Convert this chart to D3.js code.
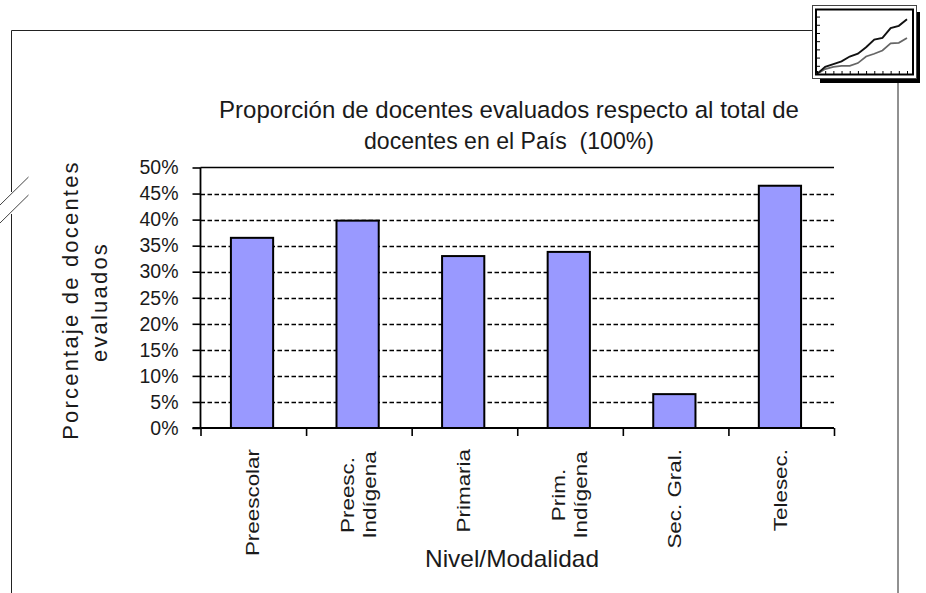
<!DOCTYPE html>
<html><head><meta charset="utf-8">
<script src="https://cdnjs.cloudflare.com/ajax/libs/d3/7.8.5/d3.min.js"></script>
<style>html,body{margin:0;padding:0;background:#fff}svg{display:block}text{font-family:"Liberation Sans",Arial,sans-serif;fill:#1a1a1a}</style>
</head><body><svg id="c" width="926" height="593"></svg>
<script>
const categories=[["Preescolar"],["Preesc.","Indígena"],["Primaria"],["Prim.","Indígena"],["Sec. Gral."],["Telesec."]];
const values=[36.5,39.8,33,33.8,6.5,46.5];
const yTicks=[0,5,10,15,20,25,30,35,40,45,50];
const titleLines=["Proporción de docentes evaluados respecto al total de","docentes en el País\u00a0 (100%)"];
const yTitleLines=["Porcentaje de docentes","evaluados"];
const xTitle="Nivel/Modalidad";
const iconBlack=[0,13,18,23,32,37,49,63,66,84,88,100];
const iconGrey=[0,9,13,15,15,20,32,37,43,56,57,66];

const svg=d3.select("#c");
const L=200.5,R=834,T=167.5,B=428;
const x=d3.scaleBand().domain(d3.range(categories.length)).range([L,R]).paddingInner(0.6).paddingOuter(0.3).align(0.48);
const xEdge=d3.scaleLinear().domain([0,categories.length]).range([L,R]);
const y=d3.scaleLinear().domain([0,50]).range([B,T]);

// page frame
const frame=svg.append("g").attr("fill","none").attr("stroke","#222").attr("stroke-width",1);
frame.append("path").attr("d","M11.5,593V214M11.5,192V30.5H814");
frame.append("path").attr("d","M898,80V593");
const brk=svg.append("g").attr("stroke","#444").attr("stroke-width",1);
brk.append("line").attr("x1",0).attr("y1",205).attr("x2",28.5).attr("y2",177);
brk.append("line").attr("x1",0).attr("y1",223).attr("x2",28.5).attr("y2",195);

// icon
const icon=svg.append("g");
icon.append("rect").attr("x",820).attr("y",12).attr("width",100).attr("height",71).attr("fill","#000");
icon.append("rect").attr("x",812.5).attr("y",5.5).attr("width",104).attr("height",73).attr("fill","#fff").attr("stroke","#444");
icon.append("rect").attr("x",816).attr("y",9.5).attr("width",97).attr("height",65).attr("fill","#fff").attr("stroke","#000").attr("stroke-width",2);
const ix=d3.scaleLinear().domain([0,11]).range([817,907]);
const iy=d3.scaleLinear().domain([0,100]).range([74,19.3]);
const il=d3.line().x((d,i)=>ix(i)).y(d=>iy(d));
icon.append("path").attr("d",il(iconGrey)).attr("fill","none").attr("stroke","#666").attr("stroke-width",1.7);
icon.append("path").attr("d",il(iconBlack)).attr("fill","none").attr("stroke","#111").attr("stroke-width",1.9);
icon.append("g").attr("transform","translate(817,0)").call(d3.axisRight(iy).tickValues(d3.range(0,116,15)).tickSize(3).tickFormat("")).call(g=>g.select(".domain").remove()).call(g=>g.selectAll("line").attr("stroke","#000"));
icon.append("g").attr("transform","translate(0,74)").call(d3.axisTop(ix).ticks(11).tickSize(3).tickFormat("")).call(g=>g.select(".domain").remove()).call(g=>g.selectAll("line").attr("stroke","#000"));

// title
svg.append("g").selectAll("text").data(titleLines).join("text")
 .attr("x",509).attr("y",(d,i)=>118+i*31).attr("text-anchor","middle").attr("font-size",24.5).attr("textLength",(d,i)=>i?290:580).attr("lengthAdjust","spacingAndGlyphs").text(d=>d);

// gridlines
svg.append("g").selectAll("line").data(yTicks.filter(t=>t>0&&t<50)).join("line")
 .attr("x1",L).attr("x2",R).attr("y1",d=>Math.round(y(d))+.5).attr("y2",d=>Math.round(y(d))+.5)
 .attr("stroke","#000").attr("stroke-width",1.5).attr("stroke-dasharray","4.5,2.5");
svg.append("line").attr("x1",L).attr("x2",R).attr("y1",y(50)).attr("y2",y(50)).attr("stroke","#000").attr("stroke-width",1.5);

// bars
svg.append("g").selectAll("rect").data(values).join("rect")
 .attr("x",(d,i)=>x(i)).attr("width",x.bandwidth()).attr("y",d=>y(d)).attr("height",d=>B-y(d))
 .attr("fill","#9999ff").attr("stroke","#000").attr("stroke-width",2);

// axes
const yAxis=d3.axisLeft(y).tickValues(yTicks).tickSize(8).tickPadding(14).tickFormat(d=>d+"%");
svg.append("g").attr("transform",`translate(${L},0)`).call(yAxis)
 .call(g=>g.selectAll("line").attr("stroke","#000").attr("stroke-width",1.6))
 .call(g=>g.select(".domain").attr("stroke","#000").attr("stroke-width",1.8).attr("d",`M0,${T}V${B}`))
 .call(g=>g.selectAll("text").attr("font-size",19.5).attr("font-family","Liberation Sans").attr("fill","#1a1a1a"));
svg.append("g").attr("transform",`translate(0,${B})`).call(d3.axisBottom(xEdge).tickValues(d3.range(categories.length+1)).tickSize(8).tickFormat(""))
 .call(g=>g.selectAll("line").attr("stroke","#000").attr("stroke-width",1.6))
 .call(g=>g.select(".domain").attr("stroke","#000").attr("stroke-width",1.8).attr("d",`M${L-8},0H${R}`));

// category labels
const cat=svg.append("g").selectAll("g").data(categories).join("g")
 .attr("transform",(d,i)=>`translate(${x(i)+x.bandwidth()/2},449) rotate(-90) scale(1.18,1)`);
cat.selectAll("text").data(d=>d.map((t,i)=>({t,i,n:d.length}))).join("text")
 .attr("text-anchor",d=>d.n>1?"middle":"end").attr("x",d=>d.n>1?-39:0)
 .attr("y",d=>d.n==1?7:(d.i==0?-4:18)).attr("font-size",19).text(d=>d.t);

// axis titles
svg.append("text").attr("x",512).attr("y",567).attr("text-anchor","middle").attr("font-size",24).attr("textLength",174).attr("lengthAdjust","spacingAndGlyphs").text(xTitle);
svg.append("g").selectAll("text").data(yTitleLines).join("text")
 .attr("transform",(d,i)=>`translate(${78+i*29},${i?302:300}) rotate(-90)`).attr("text-anchor","middle").attr("font-size",22).attr("letter-spacing",2.2).text(d=>d);
</script></body></html>
